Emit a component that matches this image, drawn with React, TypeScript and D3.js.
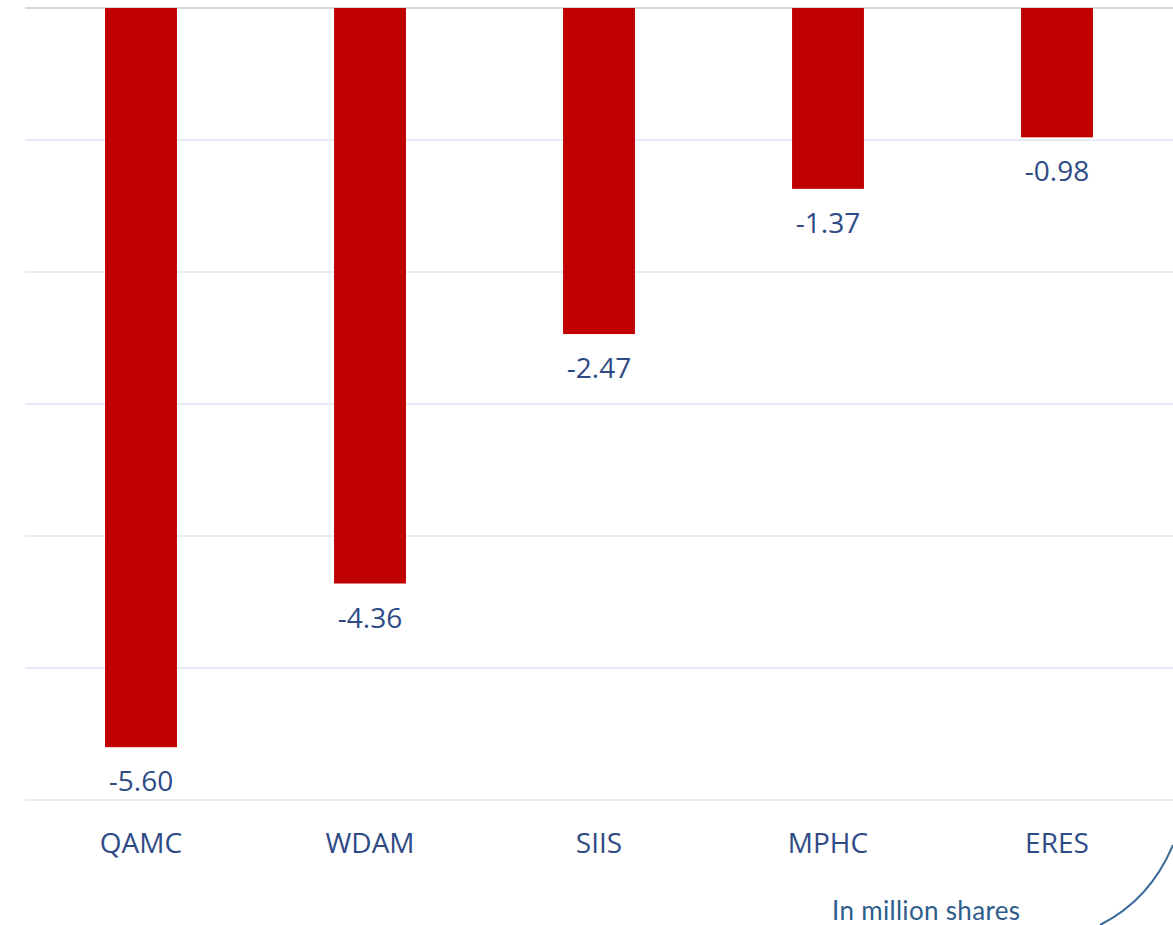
import React, { useRef, useEffect } from 'react';
import * as d3 from 'd3';

const categories = ['QAMC', 'WDAM', 'SIIS', 'MPHC', 'ERES'];
const values = [-5.6, -4.36, -2.47, -1.37, -0.98];
const gridTicks = [0, -1, -2, -3, -4, -5, -6];
const unitLabel = 'In million shares';

const W = 1173;
const H = 925;

export default function App() {
  const svgRef = useRef<SVGSVGElement | null>(null);

  useEffect(() => {
    const svg = d3.select(svgRef.current);
    svg.selectAll('*').remove();

    const x = d3.scaleBand<string>()
      .domain(categories)
      .range([26.5, 1171.5])
      .paddingInner(0.686)
      .paddingOuter(0.343);

    const y = d3.scaleLinear().domain([0, -6]).range([8, 800]);

    // grid lines
    svg.append('g')
      .selectAll('line')
      .data(gridTicks)
      .join('line')
      .attr('x1', 25).attr('x2', W)
      .attr('y1', d => y(d)).attr('y2', d => y(d))
      .attr('stroke', d => (d === 0 ? '#d9d9d9' : '#dce6f2'))
      .attr('stroke-width', d => (d === 0 ? 2 : 1.5));

    // bars
    svg.append('g')
      .selectAll('rect')
      .data(values)
      .join('rect')
      .attr('x', (_, i) => x(categories[i])!)
      .attr('width', x.bandwidth())
      .attr('y', y(0))
      .attr('height', d => y(d) - y(0))
      .attr('fill', '#c00000');

    // value labels
    svg.append('g')
      .selectAll('text')
      .data(values)
      .join('text')
      .attr('x', (_, i) => x(categories[i])! + x.bandwidth() / 2)
      .attr('y', d => y(d) + 44)
      .attr('text-anchor', 'middle')
      .attr('font-family', '"Open Sans", sans-serif')
      .attr('font-size', 28)
      .attr('fill', '#2f4b86')
      .text(d => d.toFixed(2));

    // category labels
    svg.append('g')
      .selectAll('text')
      .data(categories)
      .join('text')
      .attr('x', d => x(d)! + x.bandwidth() / 2)
      .attr('y', 853)
      .attr('text-anchor', 'middle')
      .attr('font-family', '"Open Sans", sans-serif')
      .attr('font-size', 28)
      .attr('fill', '#2f4b86')
      .text(d => d);

    // unit note
    svg.append('text')
      .attr('x', 832)
      .attr('y', 920)
      .attr('textLength', 188)
      .attr('font-family', 'Lato, sans-serif')
      .attr('font-size', 26)
      .attr('fill', '#2e5d8c')
      .text(unitLabel);

    // decorative curve
    svg.append('path')
      .attr('d', 'M1100,925 Q1150,900 1173,845')
      .attr('fill', 'none')
      .attr('stroke', '#3a6a9a')
      .attr('stroke-width', 2);
  }, []);

  return (
    <div style={{ position: 'absolute', left: 0, top: 0 }}>
      <svg ref={svgRef} width={W} height={H} style={{ display: 'block', background: '#fff' }} />
    </div>
  );
}
